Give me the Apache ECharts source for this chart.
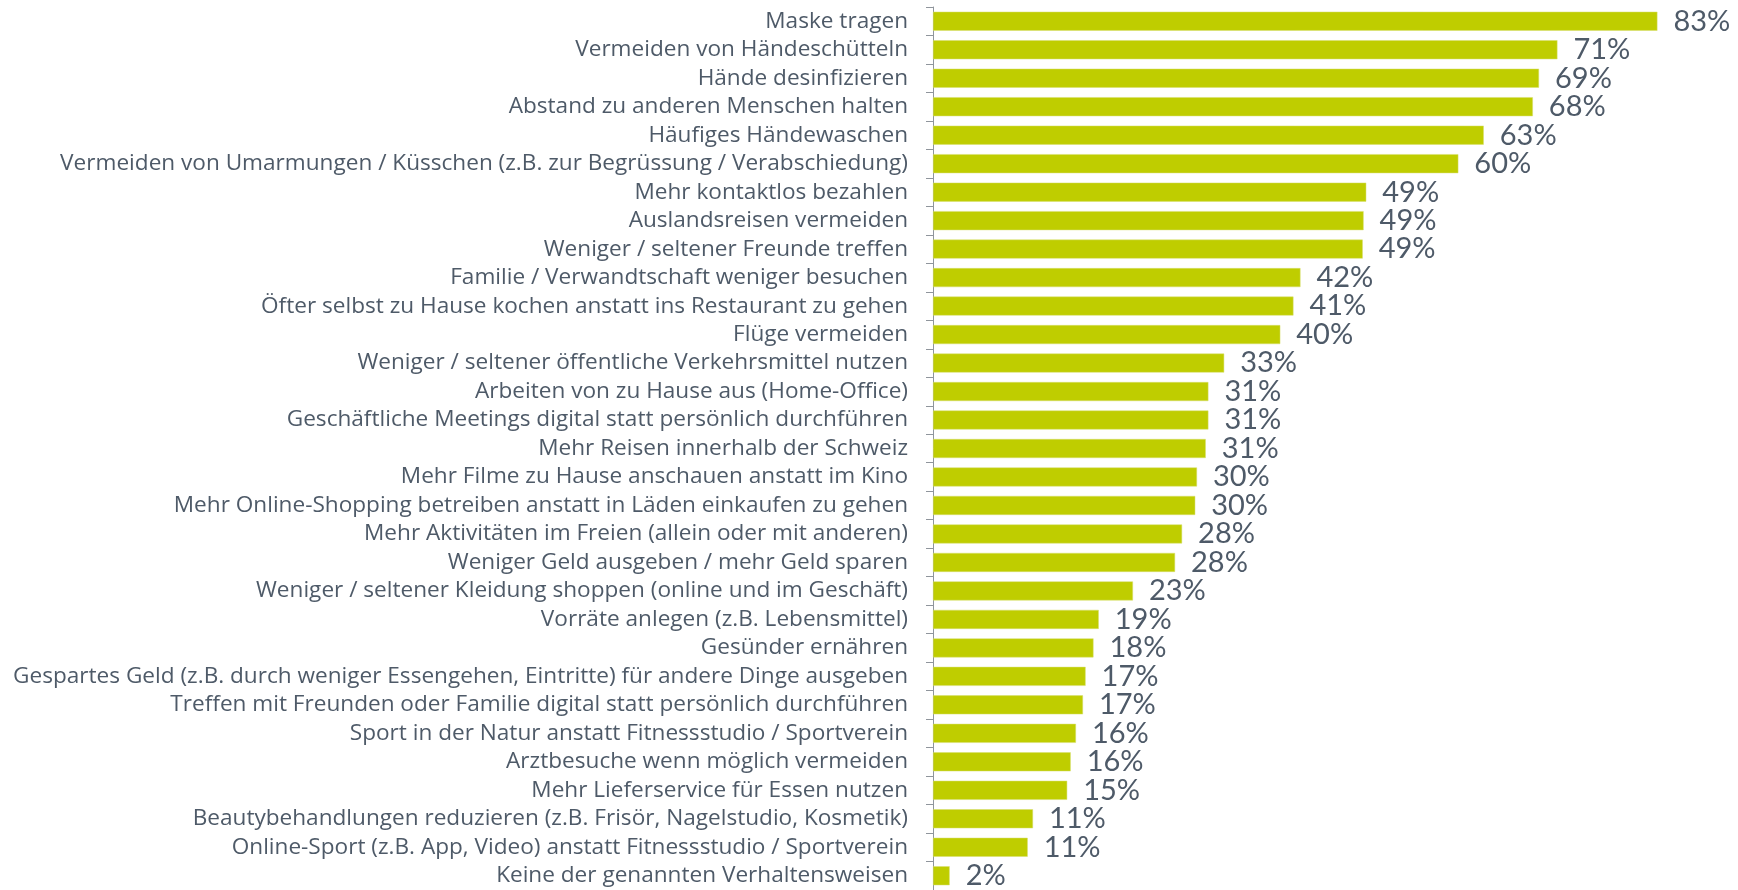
<!DOCTYPE html>
<html>
<head>
<meta charset="utf-8">
<script src="https://cdn.jsdelivr.net/npm/echarts@6/dist/echarts.min.js"></script>
<style>
  html, body { margin: 0; padding: 0; background: #fff; }
  #chart { width: 1738px; height: 890px; }
</style>
</head>
<body>
<div id="chart"></div>
<script>
// Kategorien (von oben nach unten)
var categories = [
  'Maske tragen',
  'Vermeiden von Händeschütteln',
  'Hände desinfizieren',
  'Abstand zu anderen Menschen halten',
  'Häufiges Händewaschen',
  'Vermeiden von Umarmungen / Küsschen (z.B. zur Begrüssung / Verabschiedung)',
  'Mehr kontaktlos bezahlen',
  'Auslandsreisen vermeiden',
  'Weniger / seltener Freunde treffen',
  'Familie / Verwandtschaft weniger besuchen',
  'Öfter selbst zu Hause kochen anstatt ins Restaurant zu gehen',
  'Flüge vermeiden',
  'Weniger / seltener öffentliche Verkehrsmittel nutzen',
  'Arbeiten von zu Hause aus (Home-Office)',
  'Geschäftliche Meetings digital statt persönlich durchführen',
  'Mehr Reisen innerhalb der Schweiz',
  'Mehr Filme zu Hause anschauen anstatt im Kino',
  'Mehr Online-Shopping betreiben anstatt in Läden einkaufen zu gehen',
  'Mehr Aktivitäten im Freien (allein oder mit anderen)',
  'Weniger Geld ausgeben / mehr Geld sparen',
  'Weniger / seltener Kleidung shoppen (online und im Geschäft)',
  'Vorräte anlegen (z.B. Lebensmittel)',
  'Gesünder ernähren',
  'Gespartes Geld (z.B. durch weniger Essengehen, Eintritte) für andere Dinge ausgeben',
  'Treffen mit Freunden oder Familie digital statt persönlich durchführen',
  'Sport in der Natur anstatt Fitnessstudio / Sportverein',
  'Arztbesuche wenn möglich vermeiden',
  'Mehr Lieferservice für Essen nutzen',
  'Beautybehandlungen reduzieren (z.B. Frisör, Nagelstudio, Kosmetik)',
  'Online-Sport (z.B. App, Video) anstatt Fitnessstudio / Sportverein',
  'Keine der genannten Verhaltensweisen'
];

var shares = [
  82.6, 71.2, 69.1, 68.4, 62.8, 59.9, 49.4, 49.1, 49.0, 41.9,
  41.1, 39.6, 33.2, 31.4, 31.4, 31.1, 30.1, 29.9, 28.4, 27.6,
  22.8, 18.9, 18.3, 17.4, 17.1, 16.3, 15.7, 15.3, 11.4, 10.8,
  1.9
];

var TEXT = '#4e5a68';
var chart = echarts.init(document.getElementById('chart'));

chart.setOption({
  animation: false,
  grid: { left: 933, right: 15.7, top: 7, bottom: -3.6, containLabel: false },
  xAxis: {
    type: 'value',
    min: 0, max: 90,
    show: false
  },
  yAxis: {
    type: 'category',
    inverse: true,
    data: categories,
    axisLine: { show: true, lineStyle: { color: '#8f959c', width: 1 } },
    axisTick: { show: true, interval: 0, length: 7, lineStyle: { color: '#8f959c' } },
    axisLabel: {
      interval: 0,
      margin: 25,
      padding: [3, 0, 0, 0],
      color: TEXT,
      fontFamily: 'Open Sans',
      fontSize: 22.6
    },
    splitLine: { show: false }
  },
  series: [{
    type: 'bar',
    data: shares,
    barWidth: 19,
    itemStyle: { color: '#bfcd00', borderColor: '#d6df6e', borderWidth: 0.5 },
    label: {
      show: true,
      position: 'right',
      distance: 16,
      padding: [2, 0, 0, 0],
      color: TEXT,
      fontFamily: 'Lato',
      fontSize: 29,
      formatter: function (p) { return Math.round(p.value) + '%'; }
    }
  }]
});
</script>
</body>
</html>
